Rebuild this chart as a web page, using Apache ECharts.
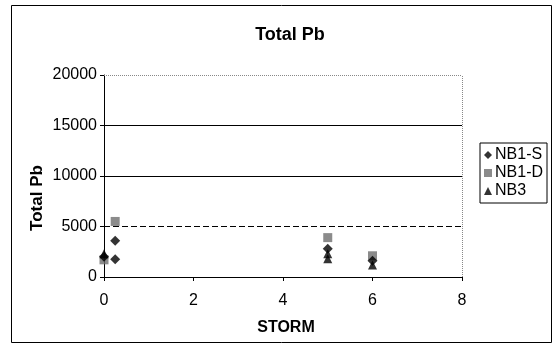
<!DOCTYPE html>
<html><head><meta charset="utf-8">
<script src="https://cdn.jsdelivr.net/npm/echarts@6/dist/echarts.min.js"></script>
<style>html,body{margin:0;padding:0;background:#fff}#c{width:553px;height:355px}</style>
</head><body><div id="c"></div>
<script>
const titleText = 'Total Pb';
const xName = 'STORM';
const yName = 'Total Pb';
const seriesNames = ['NB1-S', 'NB1-D', 'NB3'];
const nb1s = [[0, 2000], [0.25, 3600], [0.25, 1750], [5, 2800], [6, 1600]];
const nb1d = [[0, 1700], [0.25, 5500], [5, 3900], [6, 2100]];
const nb3 = [[0, 2300], [5, 2300], [5, 1800], [6, 1200]];
const yTicks = [0, 5000, 10000, 15000, 20000];
const xTicks = [0, 2, 4, 6, 8];

const chart = echarts.init(document.getElementById('c'));
const font = 'Arial, "Liberation Sans", sans-serif';
chart.setOption({
  animation: false,
  backgroundColor: '#fff',
  title: {text: titleText, left: 285, top: 21, textAlign: 'center',
    textStyle: {fontFamily: font, fontSize: 18, fontWeight: 'bold', color: '#000'}},
  grid: {left: 104, right: 91, top: 75, bottom: 78},
  legend: {
    orient: 'vertical', left: 480, top: 143, itemGap: 2, itemWidth: 8, itemHeight: 8,
    padding: [4, 4, 4, 4], borderColor: '#000', borderWidth: 1,
    textStyle: {fontFamily: font, fontSize: 16, color: '#000', padding: [0, 0, 0, -2]},
    data: seriesNames
  },
  xAxis: {
    type: 'value', min: 0, max: 8, interval: 2,
    axisLine: {lineStyle: {color: '#000', width: 1}},
    axisTick: {show: true, length: 4, lineStyle: {color: '#000'}},
    axisLabel: {fontFamily: font, fontSize: 16, color: '#000', margin: 16,
      formatter: v => xTicks.includes(v) ? String(v) : ''},
    splitLine: {show: false}
  },
  yAxis: {
    type: 'value', min: 0, max: 20000, interval: 5000,
    axisLine: {show: true, lineStyle: {color: '#000', width: 1}},
    axisTick: {show: true, length: 4, lineStyle: {color: '#000'}},
    axisLabel: {fontFamily: font, fontSize: 16, color: '#000', margin: 7,
      formatter: v => yTicks.includes(v) ? String(v) : ''},
    splitLine: {show: false}
  },
  graphic: [
    {type: 'rect', shape: {x: 11.5, y: 5.5, width: 540, height: 337}, silent: true, z: -10,
      style: {fill: 'none', stroke: '#000', lineWidth: 1}},
    {type: 'text', x: 37, y: 198, rotation: Math.PI / 2,
      style: {text: yName, font: 'bold 17px ' + font, fill: '#000', textAlign: 'center', textVerticalAlign: 'middle'}},
    {type: 'text', x: 286, y: 328,
      style: {text: xName, font: 'bold 16px ' + font, fill: '#000', textAlign: 'center', textVerticalAlign: 'middle'}}
  ],
  series: [
    {name: seriesNames[0], type: 'scatter', data: nb1s, symbol: 'diamond', symbolSize: 10,
      itemStyle: {color: '#000'}, z: 3,
      markLine: {silent: true, symbol: 'none', label: {show: false}, animation: false,
        data: [
          {yAxis: 5000, lineStyle: {color: '#000', type: [6, 3], width: 1}},
          {yAxis: 10000, lineStyle: {color: '#000', type: 'solid', width: 1}},
          {yAxis: 15000, lineStyle: {color: '#000', type: 'solid', width: 1}},
          {yAxis: 20000, lineStyle: {color: '#888', type: [1, 1], width: 1}},
          {xAxis: 8, lineStyle: {color: '#888', type: [1, 1], width: 1}}
        ]}},
    {name: seriesNames[1], type: 'scatter', data: nb1d, symbol: 'rect', symbolSize: 9,
      itemStyle: {color: '#6e6e6e'}, z: 2},
    {name: seriesNames[2], type: 'scatter', data: nb3, symbol: 'triangle', symbolSize: 9,
      itemStyle: {color: '#000'}, z: 4}
  ]
});
</script></body></html>
